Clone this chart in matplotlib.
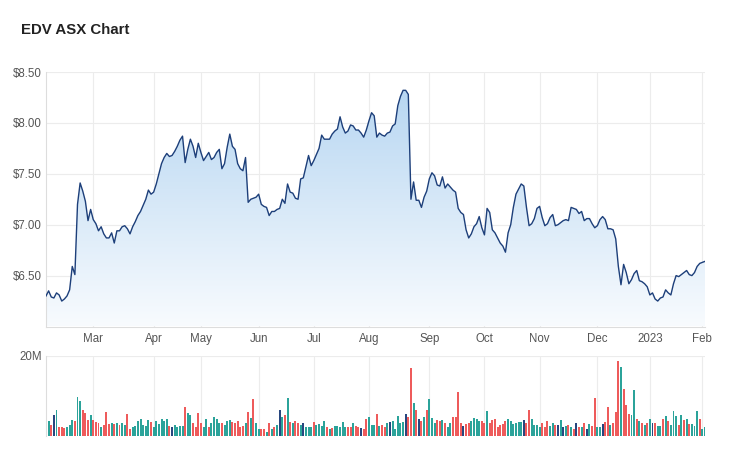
import numpy as np
import pandas as pd
import matplotlib
matplotlib.use('Agg')
import matplotlib.pyplot as plt
from matplotlib.colors import LinearSegmentedColormap
from matplotlib.patches import PathPatch

plt.rcParams['font.family'] = ['Liberation Sans', 'DejaVu Sans']

# ASX trading days, Feb 2022 - Feb 2023
holidays = ['2022-04-15', '2022-04-18', '2022-04-25', '2022-06-13', '2022-09-22',
            '2022-12-26', '2022-12-27', '2023-01-02', '2023-01-26']
days = pd.bdate_range('2022-02-03', '2023-02-02')
days = days[~days.isin(pd.to_datetime(holidays))]

close = [
    6.30, 6.35, 6.29, 6.28, 6.33, 6.31, 6.25, 6.27, 6.30, 6.36,
    6.59, 6.51, 7.20, 7.41, 7.33, 7.23, 7.04, 7.15, 7.05, 7.01,
    6.94, 6.98, 6.91, 6.87, 6.87, 6.92, 6.82, 6.94, 6.94, 6.98,
    6.99, 6.96, 6.91, 6.98, 7.03, 7.09, 7.13, 7.19, 7.25, 7.34,
    7.30, 7.32, 7.40, 7.50, 7.60, 7.66, 7.70, 7.67, 7.68, 7.72,
    7.77, 7.83, 7.87, 7.61, 7.74, 7.84, 7.77, 7.66, 7.80, 7.71,
    7.63, 7.67, 7.71, 7.64, 7.66, 7.71, 7.74, 7.55, 7.60, 7.76,
    7.89, 7.77, 7.74, 7.60, 7.55, 7.53, 7.66, 7.22, 7.25, 7.26,
    7.27, 7.30, 7.20, 7.18, 7.17, 7.09, 7.13, 7.13, 7.15, 7.16,
    7.25, 7.21, 7.40, 7.32, 7.31, 7.26, 7.25, 7.45, 7.46, 7.57,
    7.68, 7.58, 7.63, 7.69, 7.75, 7.88, 7.84, 7.84, 7.84, 7.89,
    7.92, 7.94, 8.06, 7.96, 7.90, 7.92, 7.98, 7.97, 7.93, 7.93,
    7.90, 7.86, 7.93, 8.02, 8.10, 8.07, 7.86, 7.90, 7.88, 7.87,
    7.90, 7.91, 7.97, 7.99, 8.17, 8.26, 8.32, 8.32, 8.28, 7.25,
    7.42, 7.24, 7.24, 7.17, 7.27, 7.33, 7.45, 7.51, 7.48, 7.39,
    7.38, 7.47, 7.36, 7.40, 7.37, 7.34, 7.32, 7.16, 7.12, 7.10,
    6.95, 6.87, 6.91, 6.98, 7.01, 7.08, 6.97, 6.90, 7.16, 7.12,
    6.95, 6.92, 6.87, 6.82, 6.79, 6.73, 6.92, 7.00, 7.17, 7.30,
    7.35, 7.40, 7.38, 7.17, 6.99, 7.01, 7.06, 7.16, 7.18, 7.07,
    6.99, 7.01, 7.07, 7.10, 6.99, 7.00, 7.02, 7.04, 7.05, 7.04,
    7.17, 7.16, 7.15, 7.11, 7.13, 7.04, 7.06, 7.06, 7.01, 6.97,
    6.99, 7.05, 7.08, 7.05, 6.96, 6.96, 6.95, 6.86, 6.59, 6.41,
    6.61, 6.53, 6.42, 6.46, 6.52, 6.55, 6.45, 6.44, 6.42, 6.39,
    6.31, 6.33, 6.27, 6.25, 6.28, 6.29, 6.36, 6.33, 6.31, 6.42,
    6.50, 6.49, 6.51, 6.53, 6.55, 6.51, 6.50, 6.53, 6.59, 6.62,
    6.63, 6.64,
]

# daily volume in millions of shares
volume_m = [
    3.3, 3.7, 2.8, 5.1, 6.4, 2.1, 2.1, 1.9, 2.3, 2.7,
    3.9, 3.7, 9.8, 8.7, 6.4, 5.6, 3.9, 5.1, 3.9, 3.4,
    3.3, 2.3, 2.7, 5.9, 2.9, 3.1, 2.9, 3.1, 2.7, 3.3,
    2.7, 5.4, 1.6, 2.3, 2.4, 3.8, 4.3, 2.7, 2.4, 3.9,
    3.5, 2.1, 3.8, 2.9, 4.3, 3.8, 4.3, 2.4, 2.1, 2.7,
    2.3, 2.4, 2.4, 7.1, 5.8, 5.2, 3.1, 2.1, 5.6, 3.1,
    2.1, 4.1, 2.1, 3.1, 4.6, 4.3, 3.1, 3.1, 2.7, 3.8,
    3.9, 3.4, 3.1, 3.7, 2.3, 2.4, 3.1, 5.9, 4.4, 9.1,
    3.1, 1.6, 1.6, 1.6, 1.0, 3.1, 1.6, 2.1, 2.6, 6.4,
    4.8, 5.3, 9.5, 3.4, 3.3, 3.6, 3.1, 2.7, 3.1, 2.3,
    2.3, 2.3, 3.4, 2.7, 2.9, 2.4, 3.7, 2.1, 1.7, 1.9,
    2.4, 2.4, 2.3, 3.4, 2.1, 2.3, 2.1, 3.1, 2.4, 2.1,
    2.0, 1.8, 4.3, 4.8,
    2.7, 2.7, 5.4, 2.4, 2.7, 2.3, 3.3, 3.4, 3.7, 1.8,
    4.9, 3.1, 3.4, 5.4, 4.6, 16.9, 8.1, 6.4, 4.3, 3.8,
    4.6, 6.4, 9.1, 4.4, 3.1, 3.9, 3.7, 3.9, 3.3, 2.1,
    3.1, 4.7, 4.7, 10.9, 3.3, 2.4, 2.9, 3.1, 3.7, 4.5,
    4.1, 3.7, 3.8, 3.3, 6.3, 3.3, 3.9, 4.3, 2.1, 2.7,
    2.9, 3.7, 4.3, 3.8, 2.9, 3.3, 3.4, 3.4, 3.9, 3.1,
    6.4, 4.3, 2.6, 2.6, 2.1, 3.1, 2.3, 3.7, 2.4, 3.3,
    2.7, 2.8, 3.9, 2.1, 2.4, 2.7, 2.3, 1.8, 3.3, 2.1,
    2.1, 3.1, 1.6, 2.9, 2.4, 9.4, 2.1, 2.3, 2.9, 3.5,
    7.1, 2.7, 3.3, 5.9, 18.8, 17.2, 11.6, 7.7, 5.4, 5.2,
    11.5, 4.1, 3.7, 3.1, 2.7, 3.1, 4.1, 3.1, 3.1, 2.4,
    2.4, 4.1, 4.9, 3.7, 2.7, 6.2, 4.9, 2.7, 5.1, 3.9,
    4.1, 2.9, 2.9, 2.4, 6.3, 4.3, 1.7, 2.1,
]

# n = unchanged, t = up, r = down
vol_dir = (
    "ntrntrrrtt" "trttrrrtrr" "rtrrrtrtrt" "trrttttttt" "rttttttrnt" "tttrttrrrr"
    "ttrttt" "t" "rttt" "rrrrrtrtrt" "trrtrtrtnt" "rtrtrrtntt" "t"
    "rttttrtrtt" "tttrrtrrnr" "rt"
    "ttrtrrtntt" "tttnrrtrnr" "trtttrrtrt" "trrrrnrrtt" "ttrrtrrrrr" "rrttttttnr"
    "rttttrrrtt" "rntntrtrnr" "trntrrttnr" "rtrrrtrrrt" "trtrtrtnrt" "trtrtttrtr"
    "trtttrtt"
)

colours = {'t': '#2ba39a', 'r': '#ee5b5b', 'n': '#28467f'}
bar_cols = [colours[c] for c in vol_dir]

x = np.arange(len(days))
first_idx = pd.Series(x, index=days).groupby(days.to_period('M')).first()
tick_pos, tick_lab = [], []
for per, i in first_idx.items():
    if i == 0:
        continue
    tick_pos.append(i)
    tick_lab.append(str(per.year) if per.month == 1 else per.strftime('%b'))

grid_col = '#ececec'
label_col = '#555555'

fig = plt.figure(figsize=(7.47, 4.58), dpi=100)
fig.text(21 / 747, 1 - 30 / 458, 'EDV ASX Chart', fontsize=10.8, fontweight='bold',
         color='#222222', va='center', ha='left')

ax = fig.add_axes([46 / 747, 1 - 326.5 / 458, 659 / 747, 254.5 / 458])
ax.set_xlim(0, len(x) - 1)
ax.set_ylim(6.0, 8.5)

cmap = LinearSegmentedColormap.from_list('fade', ['#f8fbfe', '#b3d4f1'])
grad = np.linspace(1, 0, 256).reshape(-1, 1)
im = ax.imshow(grad, extent=[0, len(x) - 1, 6.0, 8.5], aspect='auto', cmap=cmap,
               origin='upper', zorder=1)
fill = ax.fill_between(x, close, 6.0, facecolor='none', edgecolor='none')
patch = PathPatch(fill.get_paths()[0], transform=ax.transData,
                  facecolor='none', edgecolor='none')
ax.add_patch(patch)
im.set_clip_path(patch)
ax.plot(x, close, color='#1d3f7a', lw=1.0, zorder=3)

ax.set_yticks([6.5, 7.0, 7.5, 8.0, 8.5])
ax.set_yticklabels(['$%.2f' % v for v in [6.5, 7.0, 7.5, 8.0, 8.5]])
ax.set_xticks(tick_pos)
ax.set_xticklabels(tick_lab)
ax.tick_params(length=0, labelsize=8.3, labelcolor=label_col)
ax.tick_params(axis='y', pad=3)
ax.tick_params(axis='x', pad=5)
ax.grid(True, color=grid_col, lw=0.8, zorder=0)
ax.set_axisbelow(True)
for s in ['top', 'right']:
    ax.spines[s].set_visible(False)
for s in ['left', 'bottom']:
    ax.spines[s].set_color('#dddddd')
    ax.spines[s].set_linewidth(0.8)

axv = fig.add_axes([46 / 747, 1 - 435.7 / 458, 659 / 747, 79.7 / 458])
axv.bar(x, volume_m, width=0.75, color=bar_cols, zorder=2)
axv.set_xlim(0, len(x) - 1)
axv.set_ylim(0, 20)
axv.set_yticks([20])
axv.set_yticklabels(['20M'])
axv.set_xticks(tick_pos)
axv.set_xticklabels([])
axv.tick_params(length=0, labelsize=8.3, labelcolor=label_col)
axv.tick_params(axis='y', pad=3)
axv.grid(True, color=grid_col, lw=0.8, zorder=0)
axv.set_axisbelow(True)
for s in ['top', 'right', 'bottom']:
    axv.spines[s].set_visible(False)
axv.spines['left'].set_color('#dddddd')
axv.spines['left'].set_linewidth(0.8)

fig.savefig('out.png', dpi=100)
